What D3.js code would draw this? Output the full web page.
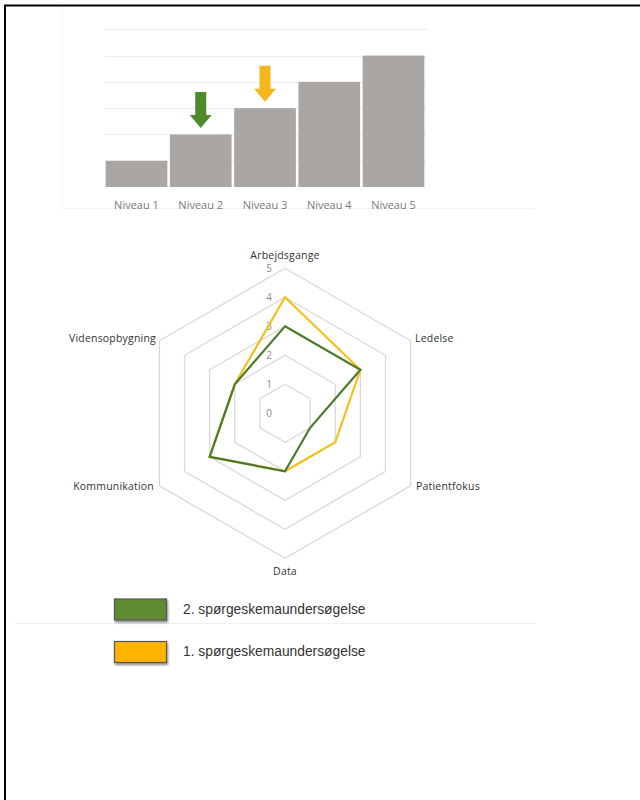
<!DOCTYPE html>
<html>
<head>
<meta charset="utf-8">
<script src="https://cdn.jsdelivr.net/npm/d3@7"></script>
<style>
  html, body { margin: 0; padding: 0; background: #fff; }
  svg { display: block; }
</style>
</head>
<body>
<svg id="chart" width="640" height="800"></svg>
<script>
// ---- data ----
const levels = ["Niveau 1", "Niveau 2", "Niveau 3", "Niveau 4", "Niveau 5"];
const levelValues = [1, 2, 3, 4, 5];
const levelGridTicks = [1, 2, 3, 4, 5, 6];
const arrowLevels = ["Niveau 2", "Niveau 3"];
const arrowSeries = ["2. spørgeskemaundersøgelse", "1. spørgeskemaundersøgelse"];

const radarAxes = ["Arbejdsgange", "Ledelse", "Patientfokus", "Data", "Kommunikation", "Vidensopbygning"];
const survey1 = [4, 3, 2, 2, 3, 2];
const survey2 = [3, 3, 1, 2, 3, 2];
const radarTicks = [0, 1, 2, 3, 4, 5];
const seriesNames = ["2. spørgeskemaundersøgelse", "1. spørgeskemaundersøgelse"];

// ---- styles ----
const svg = d3.select("#chart");
const barColor = "#aaa6a3";
const arrowColors = { "2. spørgeskemaundersøgelse": "#4f8a2b", "1. spørgeskemaundersøgelse": "#f7b51d" };
const lineColors = { "2. spørgeskemaundersøgelse": "#4d7a2c", "1. spørgeskemaundersøgelse": "#f0c21a" };
const legendColors = { "2. spørgeskemaundersøgelse": "#5e8c31", "1. spørgeskemaundersøgelse": "#ffb400" };

// page frame
svg.append("line").attr("x1", 5).attr("x2", 5).attr("y1", 5).attr("y2", 800)
  .attr("stroke", "#000").attr("stroke-width", 2);
svg.append("line").attr("x1", 4).attr("x2", 640).attr("y1", 5.5).attr("y2", 5.5)
  .attr("stroke", "#000").attr("stroke-width", 2);
// faint picture edges
svg.append("line").attr("x1", 62.5).attr("x2", 62.5).attr("y1", 7).attr("y2", 208)
  .attr("stroke", "#f6f6f6").attr("stroke-width", 1);
svg.append("line").attr("x1", 62).attr("x2", 535).attr("y1", 208.5).attr("y2", 208.5)
  .attr("stroke", "#f3f3f3").attr("stroke-width", 1);
svg.append("line").attr("x1", 15).attr("x2", 535).attr("y1", 623.5).attr("y2", 623.5)
  .attr("stroke", "#f0f0f0").attr("stroke-width", 1);

// ---- bar chart ----
const x = d3.scaleBand().domain(levels).range([105, 425]).paddingInner(0.04).paddingOuter(0.01);
const y = d3.scaleLinear().domain([0, 6]).range([187, 29.3]);

const bar = svg.append("g");
bar.selectAll("line.grid").data(levelGridTicks).join("line")
  .attr("class", "grid")
  .attr("x1", 105).attr("x2", 427)
  .attr("y1", d => Math.round(y(d)) + 0.5).attr("y2", d => Math.round(y(d)) + 0.5)
  .attr("stroke", "#ececec").attr("stroke-width", 1.2);

bar.selectAll("rect").data(levels).join("rect")
  .attr("x", d => x(d))
  .attr("width", x.bandwidth())
  .attr("y", (d, i) => y(levelValues[i]))
  .attr("height", (d, i) => y(0) - y(levelValues[i]))
  .attr("fill", barColor);

bar.selectAll("text").data(levels).join("text")
  .attr("x", d => x(d) + x.bandwidth() / 2)
  .attr("y", 206)
  .attr("text-anchor", "middle")
  .attr("dominant-baseline", "middle")
  .attr("font-family", "Open Sans, sans-serif")
  .attr("font-size", 11)
  .attr("fill", "#7a7a7a")
  .text(d => d);

// arrows pointing at bars
arrowLevels.forEach((lvl, i) => {
  const cx = x(lvl) + x.bandwidth() / 2;
  const v = levelValues[levels.indexOf(lvl)];
  const tip = y(v) - 6.5;
  const top = tip - 36, headY = tip - 13;
  const sw = 5.5, hw = 11;
  const pts = [[cx - sw, top], [cx + sw, top], [cx + sw, headY], [cx + hw, headY], [cx, tip],
               [cx - hw, headY], [cx - sw, headY]];
  bar.append("path").attr("d", d3.line()(pts) + "Z").attr("fill", arrowColors[arrowSeries[i]]);
});

// ---- radar chart ----
const cx = 285, cy = 413.3;
const r = d3.scaleLinear().domain([0, 5]).range([0, 145]);
const angle = i => -Math.PI / 2 + i * 2 * Math.PI / radarAxes.length;
const pt = (v, i) => [cx + r(v) * Math.cos(angle(i)), cy + r(v) * Math.sin(angle(i))];

const radar = svg.append("g");
radarTicks.filter(t => t > 0).forEach(t => {
  radar.append("path")
    .attr("d", d3.line()(radarAxes.map((a, i) => pt(t, i))) + "Z")
    .attr("fill", "none").attr("stroke", "#d9d9d9").attr("stroke-width", 1.3);
});

radar.selectAll("text.tick").data(radarTicks).join("text")
  .attr("class", "tick")
  .attr("x", cx - 16)
  .attr("y", d => cy - r(d) + 1)
  .attr("text-anchor", "middle")
  .attr("dominant-baseline", "middle")
  .attr("font-family", "Open Sans, sans-serif")
  .attr("font-size", 10)
  .attr("fill", "#8c8c8c")
  .text(d => d);

// series (1st below, 2nd on top)
[["1. spørgeskemaundersøgelse", survey1], ["2. spørgeskemaundersøgelse", survey2]].forEach(([name, vals]) => {
  radar.append("path")
    .attr("d", d3.line()(vals.map((v, i) => pt(v, i))) + "Z")
    .attr("fill", "none").attr("stroke", lineColors[name]).attr("stroke-width", 2.2)
    .attr("stroke-linejoin", "miter");
});

// axis labels
const labelPos = [
  { dx: 0, dy: -157, anchor: "middle" },
  { dx: 130, dy: -74, anchor: "start" },
  { dx: 131, dy: 74, anchor: "start" },
  { dx: 0, dy: 159, anchor: "middle" },
  { dx: -131, dy: 74, anchor: "end" },
  { dx: -129, dy: -74, anchor: "end" }
];
radar.selectAll("text.axis").data(radarAxes).join("text")
  .attr("class", "axis")
  .attr("x", (d, i) => cx + labelPos[i].dx)
  .attr("y", (d, i) => cy + labelPos[i].dy)
  .attr("text-anchor", (d, i) => labelPos[i].anchor)
  .attr("dominant-baseline", "middle")
  .attr("font-family", "Open Sans, sans-serif")
  .attr("font-size", 10.5)
  .attr("letter-spacing", 0.2)
  .attr("fill", "#333333")
  .text(d => d);

// ---- legend ----
const defs = svg.append("defs");
const f = defs.append("filter").attr("id", "sh").attr("x", "-20%").attr("y", "-20%").attr("width", "150%").attr("height", "170%");
f.append("feDropShadow").attr("dx", 1).attr("dy", 2).attr("stdDeviation", 1.2).attr("flood-color", "#000").attr("flood-opacity", 0.45);

const legend = svg.append("g");
seriesNames.forEach((name, i) => {
  const ly = 599 + i * 42.5;
  legend.append("rect")
    .attr("x", 114.5).attr("y", ly).attr("width", 52).attr("height", 21)
    .attr("fill", legendColors[name]).attr("stroke", "#555").attr("stroke-width", 1.2)
    .attr("filter", "url(#sh)");
  legend.append("text")
    .attr("x", 183).attr("y", ly + 11)
    .attr("dominant-baseline", "middle")
    .attr("font-family", "Liberation Sans, sans-serif")
    .attr("font-size", 13.8)
    .attr("fill", "#333")
    .text(name);
});
</script>
</body>
</html>
